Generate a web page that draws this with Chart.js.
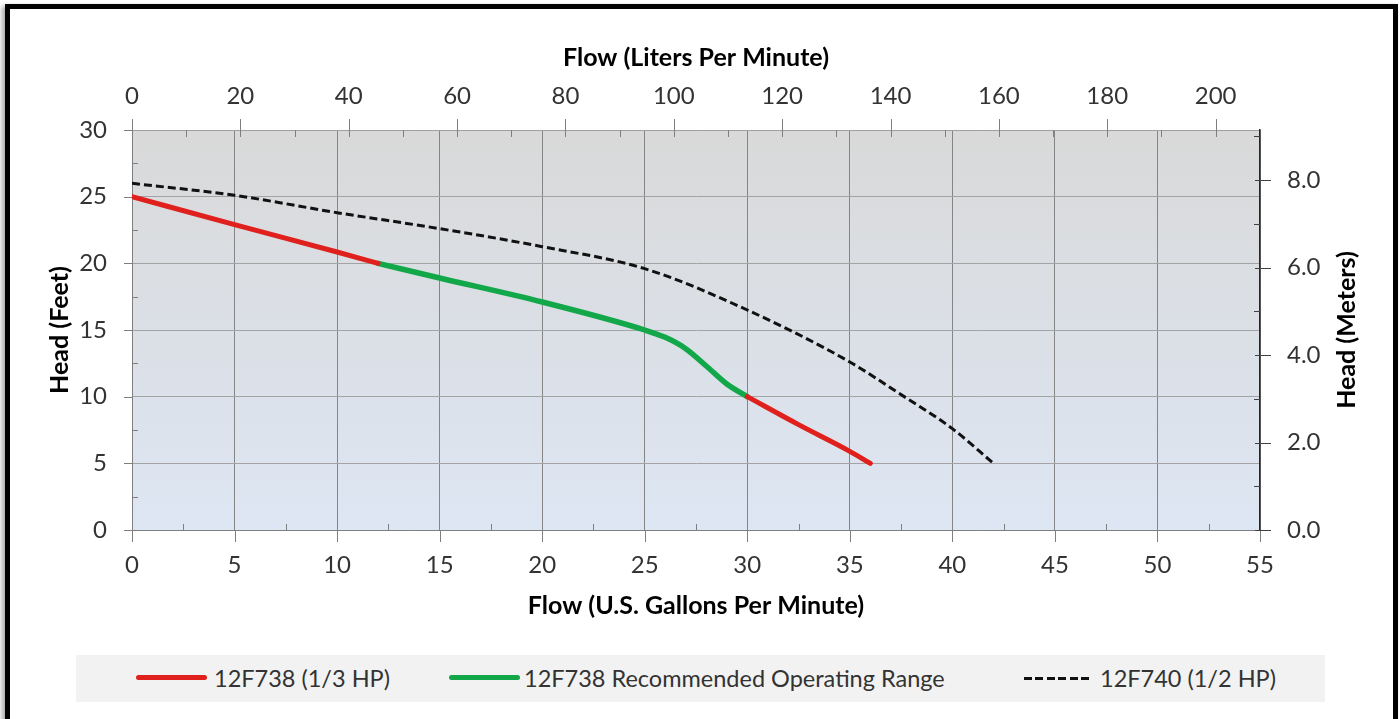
<!DOCTYPE html>
<html>
<head>
<meta charset="utf-8">
<script src="https://cdn.jsdelivr.net/npm/chart.js@4.4.1/dist/chart.umd.min.js"></script>
<style>
  html, body { margin: 0; padding: 0; background: #fff; }
  #wrap { position: relative; width: 1400px; height: 719px; overflow: hidden; background: #fff; }
  #c { position: absolute; left: 0; top: 0; }
  #frame { position: absolute; left: 5px; top: 4px; width: 1393px; height: 722px; box-sizing: border-box;
           border: 5px solid #000; box-shadow: -3px 2px 5px rgba(0,0,0,0.35); pointer-events: none; }
  #legend { position: absolute; left: 76px; top: 655px; width: 1249px; height: 47px; background: #f2f2f2; }
  .sw { position: absolute; }
  .lt { position: absolute; top: 0; height: 47px; line-height: 47px; font-family: Lato, sans-serif;
        font-size: 23.5px; color: #333; white-space: nowrap; }
</style>
</head>
<body>
<div id="wrap">
  <canvas id="c" width="1400" height="719"></canvas>
  <div id="legend"></div>
  <div id="frame"></div>
</div>
<script>
// ---------- data ----------
const seriesNames = ['12F738 (1/3 HP)', '12F738 Recommended Operating Range', '12F740 (1/2 HP)'];

// 12F738 (1/3 HP) – low-flow part (red)
const red1Gpm  = [0, 5, 10, 12];
const red1Head = [25, 22.9, 20.85, 20];
// 12F738 Recommended Operating Range (green)
const greenGpm  = [12, 15, 20, 25, 26, 27, 28, 29, 30];
const greenHead = [20, 18.9, 17.1, 15, 14.45, 13.6, 12.3, 10.95, 10];
// 12F738 (1/3 HP) – high-flow part (red)
const red2Gpm  = [30, 32.5, 35, 36];
const red2Head = [10, 7.9, 5.9, 5];
// 12F740 (1/2 HP) (black dashed)
const blackGpm  = [0, 5, 10, 15, 20, 25, 30, 35, 37.4, 40, 42];
const blackHead = [26, 25.1, 23.8, 22.6, 21.25, 19.6, 16.5, 12.6, 10.25, 7.6, 5];

// axis ticks
const gpmTicks   = [0, 5, 10, 15, 20, 25, 30, 35, 40, 45, 50, 55];
const gpmMinor   = [2.5, 7.5, 12.5, 17.5, 22.5, 27.5, 32.5, 37.5, 42.5, 47.5, 52.5];
const feetTicks  = [0, 5, 10, 15, 20, 25, 30];
const feetMinor  = [2.5, 7.5, 12.5, 17.5, 22.5, 27.5];
const lpmTicks   = [0, 20, 40, 60, 80, 100, 120, 140, 160, 180, 200];
const lpmMinor   = [10, 30, 50, 70, 90, 110, 130, 150, 170, 190];
const meterTicks = [0, 2, 4, 6, 8];
const meterMinor = [1, 3, 5, 7, 9];

const axisTitles = {
  bottom: 'Flow (U.S. Gallons Per Minute)',
  top: 'Flow (Liters Per Minute)',
  left: 'Head (Feet)',
  right: 'Head (Meters)'
};

const gpmMax = 55, headMax = 30;
const litersPerGallon = 3.785411784, feetPerMeter = 3.28084;

// ---------- helpers ----------
const pts = (xs, ys) => xs.map((x, i) => ({ x: x, y: ys[i] }));
const RED = '#e0201c', GREEN = '#12a84a', BLACK = '#111';
const tickFont  = { family: 'Lato', size: 24 };
const titleFont = { family: 'Lato', size: 25, weight: 'bold', lineHeight: 1.2 };

const bgPlugin = {
  id: 'plotBg',
  beforeDraw(chart) {
    const { ctx, chartArea: a } = chart;
    const g = ctx.createLinearGradient(0, a.top, 0, a.bottom);
    g.addColorStop(0, '#d9d9d9');
    g.addColorStop(1, '#dde6f3');
    ctx.save();
    ctx.fillStyle = g;
    ctx.fillRect(a.left, a.top, a.right - a.left, a.bottom - a.top);
    ctx.restore();
  }
};

// right-hand axis title, read bottom-to-top like the left one
const rightTitlePlugin = {
  id: 'rightTitle',
  afterDraw(chart) {
    const { ctx, chartArea: a } = chart;
    ctx.save();
    ctx.translate(1347, (a.top + a.bottom) / 2);
    ctx.rotate(-Math.PI / 2);
    ctx.font = 'bold 25px Lato';
    ctx.fillStyle = '#000';
    ctx.textAlign = 'center';
    ctx.textBaseline = 'middle';
    ctx.fillText(axisTitles.right, 0, 0);
    ctx.restore();
  }
};

const tickPlugin = {
  id: 'tickMarks',
  afterDraw(chart) {
    const c = chart.ctx, a = chart.chartArea;
    c.save();
    c.lineWidth = 1;
    const draw = (scale, vals, inLen, outLen, color) => {
      c.strokeStyle = color;
      c.beginPath();
      vals.forEach(v => {
        if (v < scale.min || v > scale.max) return;
        const p = Math.round(scale.getPixelForValue(v)) + 0.5;
        if (scale.isHorizontal()) {
          const bottom = scale.position === 'bottom';
          const base = bottom ? a.bottom : a.top;
          const dir = bottom ? 1 : -1;
          c.moveTo(p, base - dir * inLen);
          c.lineTo(p, base + dir * outLen);
        } else {
          const left = scale.position === 'left';
          const base = left ? a.left : a.right;
          const dir = left ? -1 : 1;
          c.moveTo(base - dir * inLen, p);
          c.lineTo(base + dir * outLen, p);
        }
      });
      c.stroke();
    };
    const s = chart.scales;
    draw(s.x, gpmTicks, 0, 12, '#7f7f7f');
    draw(s.x, gpmMinor, 6, 0, '#7f7f7f');
    draw(s.y, feetTicks, 0, 8, '#7f7f7f');
    draw(s.y, feetMinor, 6, 0, '#7f7f7f');
    draw(s.x2, lpmTicks, 7, 11, '#7f7f7f');
    draw(s.x2, lpmMinor, 7, 0, '#7f7f7f');
    draw(s.y2, meterTicks, 5, 11, '#404040');
    draw(s.y2, meterMinor, 6, 0, '#404040');
    c.restore();
  }
};

const lineDs = (label, data, color, width, dash) => ({
  label: label, data: data, borderColor: color, backgroundColor: color, borderWidth: width,
  borderDash: dash || [], pointRadius: 0, cubicInterpolationMode: 'monotone',
  borderCapStyle: dash ? 'butt' : 'round', fill: false, xAxisID: 'x', yAxisID: 'y'
});

new Chart(document.getElementById('c'), {
  type: 'line',
  data: {
    datasets: [
      lineDs(seriesNames[2], pts(blackGpm, blackHead), BLACK, 3, [8, 4]),
      lineDs(seriesNames[0], pts(red1Gpm, red1Head), RED, 5),
      lineDs(seriesNames[0], pts(red2Gpm, red2Head), RED, 5),
      lineDs(seriesNames[1], pts(greenGpm, greenHead), GREEN, 5.5)
    ]
  },
  options: {
    responsive: false,
    animation: false,
    devicePixelRatio: 1,
    layout: { padding: 0 },
    plugins: { legend: { display: false }, tooltip: { enabled: false } },
    scales: {
      x: {
        type: 'linear', position: 'bottom', min: 0, max: gpmMax,
        afterBuildTicks: s => { s.ticks = gpmTicks.map(v => ({ value: v })); },
        afterFit: s => { s.height = 189; },
        grid: { color: '#858585', lineWidth: 1, drawTicks: false },
        border: { color: '#7f7f7f', width: 1 },
        ticks: { padding: 20.6, font: tickFont, color: '#333', maxRotation: 0 },
        title: { display: true, text: axisTitles.bottom, font: titleFont, color: '#000',
                 padding: { top: 0, bottom: 98 } }
      },
      x2: {
        type: 'linear', position: 'top', min: 0, max: gpmMax * litersPerGallon,
        afterBuildTicks: s => { s.ticks = lpmTicks.map(v => ({ value: v })); },
        afterFit: s => { s.height = 130; },
        grid: { display: false, drawTicks: false },
        border: { color: '#a0a0a0', width: 1 },
        ticks: { padding: 19.6, font: tickFont, color: '#333', maxRotation: 0 },
        title: { display: true, text: axisTitles.top, font: titleFont, color: '#000',
                 padding: { top: 43, bottom: 0 } }
      },
      y: {
        type: 'linear', position: 'left', min: 0, max: headMax,
        afterBuildTicks: s => { s.ticks = feetTicks.map(v => ({ value: v })); },
        afterFit: s => { s.width = 132; },
        grid: { color: '#a3a3a3', lineWidth: 1, drawTicks: false },
        border: { color: '#7f7f7f', width: 1 },
        ticks: { padding: 25, font: tickFont, color: '#333' },
        title: { display: true, text: axisTitles.left, font: titleFont, color: '#000',
                 padding: { top: 45, bottom: 0 } }
      },
      y2: {
        type: 'linear', position: 'right', min: 0, max: headMax / feetPerMeter,
        afterBuildTicks: s => { s.ticks = meterTicks.map(v => ({ value: v })); },
        afterFit: s => { s.width = 140; },
        grid: { display: false, drawTicks: false },
        border: { color: '#262626', width: 1.5 },
        ticks: { padding: 27, font: tickFont, color: '#333', callback: v => Number(v).toFixed(1) },
        title: { display: false }
      }
    }
  },
  plugins: [bgPlugin, tickPlugin, rightTitlePlugin]
});

// ---------- legend (HTML) ----------
const legendItems = [
  { name: seriesNames[0], color: RED,   style: 'solid',  swLeft: 60,  swW: 71, textLeft: 138 },
  { name: seriesNames[1], color: GREEN, style: 'solid',  swLeft: 373, swW: 71, textLeft: 448 },
  { name: seriesNames[2], color: BLACK, style: 'dashed', swLeft: 948, swW: 69, textLeft: 1024 }
];
const lg = document.getElementById('legend');
legendItems.forEach(it => {
  const sw = document.createElement('div');
  sw.className = 'sw';
  sw.style.left = it.swLeft + 'px';
  sw.style.width = it.swW + 'px';
  if (it.style === 'dashed') {
    sw.style.top = '22px';
    sw.style.height = '3px';
    sw.style.background = 'repeating-linear-gradient(90deg,' + it.color + ' 0 8px, transparent 8px 11.5px)';
  } else {
    sw.style.top = '20px';
    sw.style.height = '5px';
    sw.style.borderRadius = '2.5px';
    sw.style.background = it.color;
  }
  lg.appendChild(sw);
  const t = document.createElement('div');
  t.className = 'lt';
  t.style.left = it.textLeft + 'px';
  t.textContent = it.name;
  lg.appendChild(t);
});
</script>
</body>
</html>
